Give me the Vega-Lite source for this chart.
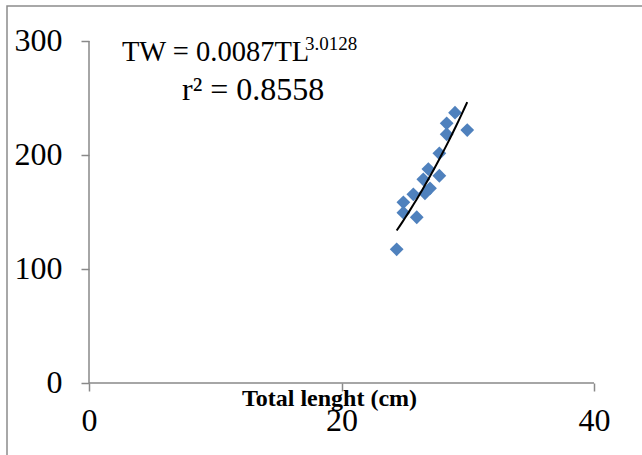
{
  "$schema": "https://vega.github.io/schema/vega-lite/v6.json",
  "width": 637,
  "height": 452,
  "autosize": {"type": "none"},
  "padding": {"left": 7, "top": 6, "right": -2, "bottom": -3},
  "background": "white",
  "config": {
    "view": {"stroke": "#8c8c8c", "strokeWidth": 1.5},
    "font": "Liberation Serif",
    "axis": {
      "grid": false,
      "domain": false,
      "tickColor": "#898989",
      "tickWidth": 1.5,
      "tickSize": 8,
      "labelFont": "Liberation Serif",
      "labelFontSize": 32,
      "labelColor": "#000000"
    }
  },
  "data": {
    "values": [
      {"TL": 28.99, "TW": 237.1},
      {"TL": 28.33, "TW": 227.8},
      {"TL": 29.96, "TW": 221.9},
      {"TL": 28.33, "TW": 218.2},
      {"TL": 27.75, "TW": 201.5},
      {"TL": 26.88, "TW": 187.7},
      {"TL": 27.75, "TW": 181.8},
      {"TL": 26.48, "TW": 178.7},
      {"TL": 27.01, "TW": 170.8},
      {"TL": 26.61, "TW": 166.4},
      {"TL": 25.69, "TW": 165.5},
      {"TL": 24.9, "TW": 158.5},
      {"TL": 24.9, "TW": 149.4},
      {"TL": 25.96, "TW": 145.4},
      {"TL": 24.37, "TW": 117.3}
    ]
  },
  "layer": [
    {
      "data": {"values": [{}]},
      "mark": {"type": "rule", "color": "#898989", "strokeWidth": 1.5},
      "encoding": {
        "x": {
          "datum": 0, "type": "quantitative",
          "scale": {"domain": [-6.495, 43.96], "nice": false, "zero": false},
          "axis": {
            "values": [0, 20, 40],
            "offset": -75,
            "labelPadding": 29,
            "labelBaseline": "middle",
            "title": "Total lenght (cm)",
            "titleFont": "Liberation Serif",
            "titleFontSize": 24,
            "titleFontWeight": "bold",
            "titleColor": "#000000",
            "titleX": 322,
            "titleY": 22,
            "titleAlign": "center",
            "titleBaseline": "alphabetic"
          }
        },
        "x2": {"datum": 40},
        "y": {
          "datum": 0, "type": "quantitative",
          "scale": {"domain": [-65.79, 330.7], "nice": false, "zero": false},
          "axis": {
            "values": [0, 100, 200, 300],
            "offset": -82,
            "labelPadding": 19,
            "title": null
          }
        }
      }
    },
    {
      "data": {"values": [{}]},
      "mark": {"type": "rule", "color": "#898989", "strokeWidth": 1.5},
      "encoding": {
        "x": {"datum": 0, "type": "quantitative"},
        "y": {"datum": 0, "type": "quantitative"},
        "y2": {"datum": 300}
      }
    },
    {
      "mark": {"type": "point", "shape": "diamond", "filled": true, "size": 190, "color": "#4F81BD", "opacity": 1},
      "encoding": {
        "x": {"field": "TL", "type": "quantitative"},
        "y": {"field": "TW", "type": "quantitative"}
      }
    },
    {
      "transform": [{"regression": "TW", "on": "TL", "method": "pow"}],
      "mark": {"type": "line", "color": "#000000", "strokeWidth": 2},
      "encoding": {
        "x": {"field": "TL", "type": "quantitative"},
        "y": {"field": "TW", "type": "quantitative"}
      }
    },
    {
      "data": {"values": [{"label": "TW = 0.0087TL"}]},
      "mark": {"type": "text", "align": "left", "baseline": "alphabetic", "font": "Liberation Serif", "fontSize": 28.5, "color": "#000000"},
      "encoding": {
        "x": {"datum": 2.61, "type": "quantitative"},
        "y": {"datum": 282.5, "type": "quantitative"},
        "text": {"field": "label"}
      }
    },
    {
      "data": {"values": [{"label": "3.0128"}]},
      "mark": {"type": "text", "align": "left", "baseline": "alphabetic", "font": "Liberation Serif", "fontSize": 19, "color": "#000000"},
      "encoding": {
        "x": {"datum": 17.1, "type": "quantitative"},
        "y": {"datum": 292.1, "type": "quantitative"},
        "text": {"field": "label"}
      }
    },
    {
      "data": {"values": [{"label": "r² = 0.8558"}]},
      "mark": {"type": "text", "align": "left", "baseline": "alphabetic", "font": "Liberation Serif", "fontSize": 32, "color": "#000000"},
      "encoding": {
        "x": {"datum": 7.37, "type": "quantitative"},
        "y": {"datum": 248.3, "type": "quantitative"},
        "text": {"field": "label"}
      }
    }
  ]
}
